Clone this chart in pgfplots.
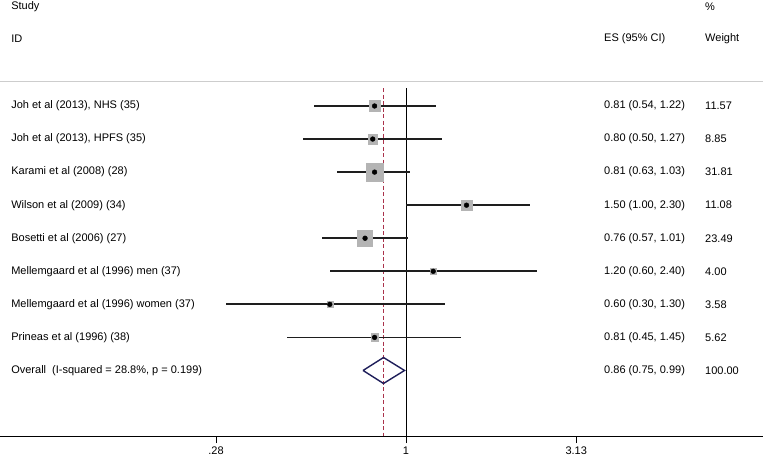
\documentclass[border=0pt]{standalone}
\usepackage{fontspec}
\setmainfont{Liberation Sans}
\usepackage{pgfplots}
\usepackage{pgfplotstable}
\pgfplotsset{compat=1.18}

\definecolor{boxgray}{RGB}{180,180,180}
\definecolor{refred}{RGB}{170,50,75}
\definecolor{navy}{RGB}{30,30,90}
\definecolor{rulegray}{RGB}{205,205,205}
\definecolor{cigray}{RGB}{30,30,30}

% study estimates (row, name, ES, lower, upper, % weight, printed ES)
\pgfplotstableread[col sep=semicolon]{
row;name;es;lo;hi;w;ci
1;Joh et al (2013), NHS (35);0.81;0.54;1.22;11.57;0.81 (0.54, 1.22)
2;Joh et al (2013), HPFS (35);0.80;0.50;1.27;8.85;0.80 (0.50, 1.27)
3;Karami et al (2008) (28);0.81;0.63;1.03;31.81;0.81 (0.63, 1.03)
4;Wilson et al (2009) (34);1.50;1.00;2.30;11.08;1.50 (1.00, 2.30)
5;Bosetti et al (2006) (27);0.76;0.57;1.01;23.49;0.76 (0.57, 1.01)
6;Mellemgaard et al (1996) men (37);1.20;0.60;2.40;4.00;1.20 (0.60, 2.40)
7;Mellemgaard et al (1996) women (37);0.60;0.30;1.30;3.58;0.60 (0.30, 1.30)
8;Prineas et al (1996) (38);0.81;0.45;1.45;5.62;0.81 (0.45, 1.45)
}\studies

\newcommand{\fnt}{\fontsize{11}{13}\selectfont}

\begin{document}
\begin{tikzpicture}[font=\fnt]
\begin{axis}[
    scale only axis,
    width=763pt,
    height=436pt,
    xmode=log,
    xmin=0.06581, xmax=10.940,
    ymin=-2.206, ymax=10.982,
    y dir=reverse,
    axis x line=bottom,
    axis y line=none,
    x axis line style={-, black, line width=0.9pt},
    xtick={0.28,1,3.13},
    xticklabels={.28,1,3.13},
    minor xtick={},
    ytick=\empty,
    tick align=outside,
    major tick length=7pt,
    tick style={black, line width=0.8pt},
    xticklabel style={font=\fnt, text=black},
    clip=false,
    every node near coord/.append style={font=\fnt, anchor=west, inner sep=0pt, text=black},
]
% reference lines
\addplot[black, line width=0.9pt] coordinates {(1,0.456) (1,10.982)};
\addplot[refred, line width=1pt, dash pattern=on 4pt off 2.5pt] coordinates {(0.86,0.456) (0.86,10.982)};
\addplot[rulegray, line width=1pt] coordinates {(0.06581,0.244) (10.940,0.244)};

% weight boxes, side proportional to sqrt of weight
\addplot[scatter, only marks, mark=square*,
    point meta=explicit, point meta min=0, point meta max=100,
    scatter/@pre marker code/.code={%
        \pgfmathsetmacro\ms{1.57*sqrt(\pgfplotspointmetatransformed/10)}%
        \scope[mark size=\ms pt, draw=boxgray, fill=boxgray]},
    scatter/@post marker code/.code={\endscope}]
    table[x=es, y=row, meta=w]{\studies};

% confidence intervals
\addplot[draw=none, mark=none,
    error bars/.cd, x dir=both, x explicit,
    error mark=none,
    error bar style={cigray, line width=1.8pt}]
    table[x=es, y=row,
          x error plus expr=\thisrow{hi}-\thisrow{es},
          x error minus expr=\thisrow{es}-\thisrow{lo}]{\studies};

% point estimates
\addplot[only marks, mark=*, mark size=2.4pt, black] table[x=es, y=row]{\studies};

% overall diamond
\addplot[navy, line width=1.4pt, line join=miter] coordinates {
    (0.75,9) (0.86,8.607) (0.99,9) (0.86,9.393) (0.75,9)};

% text columns
\addplot[only marks, mark=none, point meta=explicit symbolic, nodes near coords]
    table[x expr=0.0709, y=row, meta=name]{\studies};
\addplot[only marks, mark=none, point meta=explicit symbolic, nodes near coords]
    table[x expr=3.770, y=row, meta=ci]{\studies};
\addplot[only marks, mark=none, point meta=explicit symbolic, nodes near coords]
    table[x expr=7.418, y=row, meta=w]{\studies};

% headers and overall row
\node[anchor=west, inner sep=0pt] at (axis cs:0.0709,-1.995) {Study};
\node[anchor=west, inner sep=0pt] at (axis cs:0.0709,-1.027) {ID};
\node[anchor=west, inner sep=0pt] at (axis cs:3.770,-1.027) {ES (95\% CI)};
\node[anchor=west, inner sep=0pt] at (axis cs:7.418,-1.995) {\%};
\node[anchor=west, inner sep=0pt] at (axis cs:7.418,-1.027) {Weight};
\node[anchor=west, inner sep=0pt] at (axis cs:0.0709,9) {Overall\ \ (I-squared = 28.8\%, p = 0.199)};
\node[anchor=west, inner sep=0pt] at (axis cs:3.770,9) {0.86 (0.75, 0.99)};
\node[anchor=west, inner sep=0pt] at (axis cs:7.418,9) {100.00};
\end{axis}
\pgfresetboundingbox
\path[use as bounding box] ([yshift=-25pt]current axis.south west) rectangle (current axis.north east);
\end{tikzpicture}
\end{document}
